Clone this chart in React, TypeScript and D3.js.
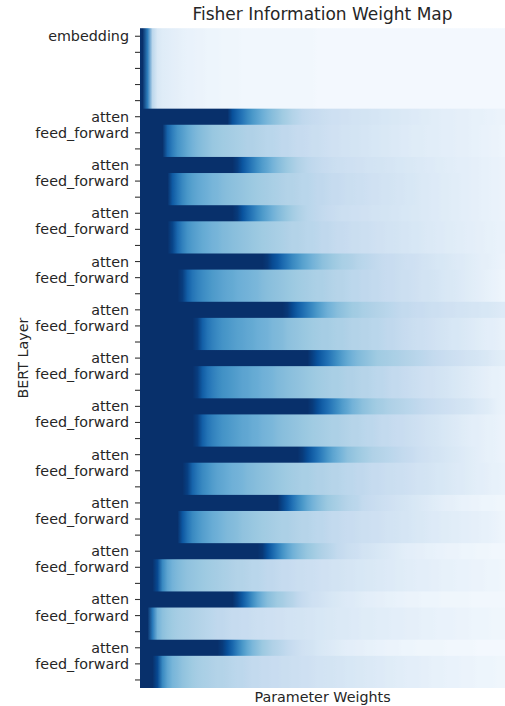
import React from "react";
import * as d3 from "d3";

const title = "Fisher Information Weight Map";
const xLabel = "Parameter Weights";
const yLabel = "BERT Layer";

const layerNames = ["atten", "feed_forward"];
const embeddingName = "embedding";
const embeddingRowCount = 5;
const feedForwardRowCount = 2;

// values in % of colour-scale maximum, one entry per weight column (73 columns)
const embeddingRow = [
  100, 70, 28, 15, 12, 11, 10, 9, 8, 7,
  7, 6, 6, 5, 5, 5, 4, 4, 4, 4,
  3, 3, 3, 3, 3, 3, 3, 3, 3, 3,
  3, 3, 3, 3, 3, 2, 2, 2, 2, 2,
  2, 2, 2, 2, 2, 2, 2, 2, 2, 2,
  2, 2, 2, 2, 2, 2, 2, 2, 2, 2,
  2, 2, 2, 2, 2, 2, 2, 2, 2, 2,
  2, 2, 2,
];

const attenRows = [
  [100, 100, 100, 100, 100, 100, 100, 100, 100, 100,
   100, 100, 100, 100, 100, 100, 100, 100, 88, 80,
   73, 66, 60, 55, 50, 46, 43, 40, 37, 34,
   31, 29, 27, 26, 25, 24, 23, 22, 21, 21,
   20, 20, 19, 19, 18, 18, 17, 17, 16, 16,
   15, 15, 14, 14, 13, 13, 12, 12, 11, 11,
   10, 10, 10, 9, 9, 9, 8, 8, 8, 7,
   7, 6, 6],
  [100, 100, 100, 100, 100, 100, 100, 100, 100, 100,
   100, 100, 100, 100, 100, 100, 100, 100, 100, 95,
   86, 78, 71, 64, 58, 53, 48, 44, 41, 38,
   35, 32, 30, 28, 27, 26, 25, 24, 23, 22,
   22, 21, 21, 20, 20, 19, 19, 18, 18, 17,
   17, 16, 16, 15, 15, 14, 14, 13, 13, 12,
   12, 11, 11, 10, 10, 10, 9, 9, 8, 8,
   7, 7, 6],
  [100, 100, 100, 100, 100, 100, 100, 100, 100, 100,
   100, 100, 100, 100, 100, 100, 100, 100, 100, 96,
   87, 79, 72, 65, 59, 54, 49, 45, 42, 39,
   36, 33, 31, 29, 28, 27, 26, 25, 24, 23,
   22, 22, 21, 21, 20, 20, 19, 19, 18, 18,
   17, 17, 16, 16, 15, 15, 14, 14, 13, 13,
   12, 12, 11, 11, 10, 10, 9, 9, 8, 8,
   7, 7, 6],
  [100, 100, 100, 100, 100, 100, 100, 100, 100, 100,
   100, 100, 100, 100, 100, 100, 100, 100, 100, 100,
   100, 100, 100, 100, 100, 97, 90, 85, 78, 72,
   66, 61, 56, 52, 48, 45, 42, 40, 38, 36,
   34, 33, 32, 30, 29, 28, 27, 26, 25, 24,
   24, 23, 22, 21, 21, 20, 19, 18, 17, 16,
   16, 15, 14, 13, 13, 12, 11, 10, 9, 9,
   8, 7, 6],
  [100, 100, 100, 100, 100, 100, 100, 100, 100, 100,
   100, 100, 100, 100, 100, 100, 100, 100, 100, 100,
   100, 100, 100, 100, 100, 100, 100, 100, 100, 97,
   90, 83, 77, 71, 65, 59, 54, 49, 46, 43,
   41, 39, 37, 36, 34, 33, 32, 31, 30, 29,
   28, 27, 26, 26, 25, 24, 24, 23, 22, 22,
   21, 20, 20, 19, 19, 18, 17, 17, 16, 16,
   15, 14, 13],
  [100, 100, 100, 100, 100, 100, 100, 100, 100, 100,
   100, 100, 100, 100, 100, 100, 100, 100, 100, 100,
   100, 100, 100, 100, 100, 100, 100, 100, 100, 100,
   100, 100, 100, 100, 94, 87, 81, 75, 69, 63,
   57, 52, 48, 45, 43, 41, 39, 37, 36, 35,
   34, 33, 32, 31, 30, 29, 28, 27, 26, 25,
   24, 23, 22, 21, 20, 19, 18, 17, 16, 15,
   13, 12, 11],
  [100, 100, 100, 100, 100, 100, 100, 100, 100, 100,
   100, 100, 100, 100, 100, 100, 100, 100, 100, 100,
   100, 100, 100, 100, 100, 100, 100, 100, 100, 100,
   100, 100, 100, 100, 96, 89, 82, 76, 70, 64,
   58, 53, 48, 45, 42, 40, 38, 36, 35, 33,
   32, 31, 30, 29, 28, 27, 26, 25, 24, 23,
   22, 21, 20, 19, 18, 17, 16, 14, 13, 12,
   10, 8, 7],
  [100, 100, 100, 100, 100, 100, 100, 100, 100, 100,
   100, 100, 100, 100, 100, 100, 100, 100, 100, 100,
   100, 100, 100, 100, 100, 100, 100, 100, 100, 100,
   100, 100, 96, 89, 82, 75, 68, 61, 55, 50,
   46, 42, 40, 38, 36, 34, 32, 31, 30, 29,
   28, 27, 26, 25, 24, 22, 21, 20, 19, 18,
   17, 16, 15, 14, 13, 12, 11, 10, 9, 8,
   8, 7, 6],
  [100, 100, 100, 100, 100, 100, 100, 100, 100, 100,
   100, 100, 100, 100, 100, 100, 100, 100, 100, 100,
   100, 100, 100, 100, 100, 100, 100, 100, 92, 84,
   75, 67, 60, 53, 48, 44, 41, 38, 36, 34,
   32, 30, 29, 28, 26, 25, 24, 23, 22, 21,
   20, 19, 18, 17, 16, 15, 14, 13, 12, 11,
   10, 9, 9, 8, 7, 7, 6, 6, 5, 5,
   5, 4, 4],
  [100, 100, 100, 100, 100, 100, 100, 100, 100, 100,
   100, 100, 100, 100, 100, 100, 100, 100, 100, 100,
   100, 100, 100, 100, 97, 88, 79, 70, 62, 55,
   49, 45, 42, 39, 37, 34, 32, 30, 28, 26,
   25, 23, 22, 21, 19, 18, 17, 16, 15, 14,
   13, 12, 11, 10, 10, 9, 9, 8, 8, 7,
   7, 6, 6, 6, 5, 5, 5, 4, 4, 4,
   3, 3, 3],
  [100, 100, 100, 100, 100, 100, 100, 100, 100, 100,
   100, 100, 100, 100, 100, 100, 100, 100, 100, 93,
   84, 74, 64, 55, 48, 43, 40, 37, 35, 32,
   30, 27, 25, 23, 21, 20, 19, 17, 16, 15,
   14, 13, 13, 12, 11, 10, 10, 9, 9, 8,
   8, 7, 7, 6, 6, 6, 5, 5, 5, 5,
   4, 4, 4, 4, 4, 4, 3, 3, 3, 3,
   3, 3, 3],
  [100, 100, 100, 100, 100, 100, 100, 100, 100, 100,
   100, 100, 100, 100, 100, 100, 96, 88, 79, 69,
   60, 52, 46, 42, 38, 35, 32, 30, 28, 26,
   24, 22, 20, 19, 18, 16, 15, 14, 13, 12,
   11, 10, 10, 9, 9, 8, 8, 7, 7, 6,
   6, 6, 5, 5, 5, 4, 4, 4, 4, 4,
   4, 3, 3, 3, 3, 3, 3, 2, 2, 2,
   2, 2, 2],
];

const feedForwardRows = [
  [100, 100, 100, 100, 100, 80, 70, 62, 57, 52,
   48, 45, 43, 41, 39, 38, 37, 36, 35, 34,
   33, 32, 32, 31, 30, 29, 29, 28, 27, 27,
   26, 25, 25, 24, 23, 23, 22, 21, 20, 20,
   19, 19, 18, 18, 17, 17, 16, 16, 15, 15,
   14, 14, 13, 13, 12, 12, 12, 11, 11, 11,
   10, 10, 10, 9, 9, 9, 8, 8, 7, 7,
   6, 6, 5],
  [100, 100, 100, 100, 100, 100, 84, 74, 66, 60,
   56, 53, 51, 49, 47, 46, 44, 43, 42, 41,
   40, 39, 38, 37, 36, 35, 34, 33, 32, 31,
   31, 30, 29, 29, 28, 27, 27, 26, 25, 25,
   24, 23, 23, 22, 22, 21, 20, 20, 19, 19,
   18, 17, 17, 16, 16, 15, 14, 14, 13, 13,
   12, 12, 11, 11, 10, 10, 9, 9, 8, 8,
   7, 7, 6],
  [100, 100, 100, 100, 100, 100, 92, 78, 69, 62,
   58, 55, 52, 50, 48, 47, 45, 44, 43, 42,
   41, 40, 39, 38, 37, 36, 35, 34, 33, 32,
   31, 31, 30, 29, 29, 28, 27, 27, 26, 25,
   25, 24, 23, 23, 22, 22, 21, 20, 20, 19,
   19, 18, 17, 17, 16, 16, 15, 14, 14, 13,
   13, 12, 12, 11, 11, 10, 10, 9, 9, 8,
   8, 7, 7],
  [100, 100, 100, 100, 100, 100, 100, 100, 95, 82,
   74, 69, 65, 62, 59, 57, 55, 53, 52, 50,
   49, 48, 47, 46, 44, 43, 42, 41, 40, 39,
   38, 37, 36, 35, 34, 33, 33, 32, 31, 30,
   30, 29, 28, 28, 27, 27, 26, 26, 25, 24,
   24, 23, 22, 22, 21, 20, 19, 19, 18, 17,
   16, 15, 15, 14, 13, 12, 11, 10, 9, 8,
   7, 6, 5],
  [100, 100, 100, 100, 100, 100, 100, 100, 100, 100,
   100, 95, 82, 74, 69, 65, 62, 60, 58, 56,
   55, 53, 52, 50, 49, 48, 46, 45, 44, 42,
   41, 40, 39, 38, 37, 36, 35, 35, 34, 33,
   33, 32, 31, 31, 30, 30, 29, 29, 28, 27,
   27, 26, 25, 24, 23, 22, 22, 21, 20, 19,
   18, 17, 16, 16, 15, 14, 13, 12, 11, 10,
   10, 9, 8],
  [100, 100, 100, 100, 100, 100, 100, 100, 100, 100,
   100, 95, 83, 75, 70, 66, 63, 61, 59, 57,
   55, 54, 52, 51, 49, 48, 47, 45, 44, 43,
   42, 41, 40, 39, 38, 37, 36, 35, 34, 34,
   33, 32, 32, 31, 30, 30, 29, 28, 28, 27,
   26, 26, 25, 24, 23, 22, 21, 20, 20, 19,
   18, 17, 16, 15, 14, 13, 12, 11, 10, 9,
   8, 8, 7],
  [100, 100, 100, 100, 100, 100, 100, 100, 100, 100,
   100, 95, 82, 74, 69, 65, 62, 60, 58, 56,
   54, 53, 51, 50, 48, 47, 46, 44, 43, 42,
   41, 40, 39, 38, 37, 36, 35, 34, 33, 33,
   32, 31, 30, 30, 29, 28, 28, 27, 26, 26,
   25, 24, 24, 23, 22, 21, 20, 19, 18, 17,
   16, 15, 14, 13, 12, 11, 10, 10, 9, 8,
   8, 7, 6],
  [100, 100, 100, 100, 100, 100, 100, 100, 100, 94,
   80, 72, 66, 62, 58, 55, 53, 51, 49, 48,
   47, 45, 44, 43, 42, 41, 40, 39, 38, 37,
   36, 35, 34, 34, 33, 32, 32, 31, 30, 30,
   29, 28, 28, 27, 27, 26, 25, 25, 24, 23,
   23, 22, 22, 21, 20, 19, 19, 18, 17, 16,
   16, 15, 14, 13, 13, 12, 11, 10, 10, 9,
   8, 8, 7],
  [100, 100, 100, 100, 100, 100, 100, 100, 85, 74,
   66, 61, 57, 54, 51, 49, 47, 45, 44, 43,
   41, 40, 39, 38, 37, 36, 35, 34, 33, 33,
   32, 31, 30, 30, 29, 28, 28, 27, 26, 26,
   25, 24, 24, 23, 22, 22, 21, 21, 20, 19,
   19, 18, 17, 17, 16, 15, 15, 14, 13, 13,
   12, 12, 11, 11, 10, 10, 9, 9, 8, 8,
   7, 6, 5],
  [100, 100, 100, 90, 66, 54, 48, 45, 43, 41,
   40, 39, 38, 37, 36, 35, 34, 33, 32, 31,
   31, 30, 29, 29, 28, 27, 27, 26, 25, 25,
   24, 23, 23, 22, 22, 21, 20, 20, 19, 19,
   18, 17, 17, 16, 16, 15, 15, 14, 14, 13,
   13, 12, 12, 11, 11, 10, 10, 10, 9, 9,
   8, 8, 8, 7, 7, 7, 6, 6, 6, 5,
   5, 5, 4],
  [100, 100, 72, 48, 42, 39, 37, 35, 34, 33,
   32, 31, 30, 29, 28, 27, 27, 26, 25, 25,
   24, 24, 23, 22, 22, 21, 21, 20, 20, 19,
   19, 18, 18, 17, 17, 16, 16, 15, 15, 14,
   14, 14, 13, 13, 12, 12, 12, 11, 11, 11,
   10, 10, 10, 9, 9, 9, 8, 8, 8, 7,
   7, 7, 7, 6, 6, 6, 5, 5, 5, 5,
   4, 4, 4],
  [100, 100, 100, 90, 66, 54, 47, 44, 41, 39,
   37, 35, 34, 33, 32, 31, 31, 30, 29, 28,
   28, 27, 26, 26, 25, 25, 24, 24, 23, 23,
   22, 22, 21, 21, 20, 19, 19, 18, 18, 17,
   17, 16, 16, 15, 15, 14, 14, 13, 13, 12,
   12, 11, 11, 10, 10, 10, 9, 9, 8, 8,
   8, 7, 7, 7, 6, 6, 6, 5, 5, 5,
   5, 4, 4],
];

const bluesStops = ["#f7fbff", "#deebf7", "#c6dbef", "#9ecae1", "#6baed6", "#4292c6", "#2171b5", "#08519c", "#08306b"];

type Row = { label: string; values: number[]; key: string };

function buildRows(): Row[] {
  const rows: Row[] = [];
  for (let i = 0; i < embeddingRowCount; i++) {
    rows.push({ label: i === 0 ? embeddingName : "", values: embeddingRow, key: "emb" });
  }
  for (let l = 0; l < attenRows.length; l++) {
    rows.push({ label: layerNames[0], values: attenRows[l], key: `att${l}` });
    for (let k = 0; k < feedForwardRowCount; k++) {
      rows.push({ label: k === 0 ? layerNames[1] : "", values: feedForwardRows[l], key: `ff${l}` });
    }
  }
  return rows;
}

const W = 505;
const H = 706;
const plotLeft = 140;
const plotRight = 505;
const plotTop = 28.2;
const plotBottom = 688;
const FONT = "'DejaVu Sans', Verdana, sans-serif";
const TEXT = "#262626";

export default function App() {
  const rows = buildRows();
  const nCols = embeddingRow.length;
  const x = d3.scaleLinear().domain([0, nCols]).range([plotLeft, plotRight]);
  const y = d3
    .scaleBand<number>()
    .domain(rows.map((_, i) => i))
    .range([plotTop, plotBottom])
    .paddingInner(0)
    .paddingOuter(0);
  const color = d3
    .scaleLinear<string>()
    .domain(bluesStops.map((_, i) => (i * 100) / (bluesStops.length - 1)))
    .range(bluesStops)
    .interpolate(d3.interpolateRgb)
    .clamp(true);
  const bw = y.bandwidth();

  const profiles = new Map<string, number[]>();
  rows.forEach((r) => profiles.set(r.key, r.values));

  return (
    <svg
      width={W}
      height={H}
      viewBox={`0 0 ${W} ${H}`}
      style={{ position: "absolute", left: 0, top: 0, background: "#fff" }}
      fontFamily={FONT}
    >
      <defs>
        {Array.from(profiles.entries()).map(([key, vals]) => (
          <linearGradient
            key={key}
            id={`g-${key}`}
            gradientUnits="userSpaceOnUse"
            x1={plotLeft}
            x2={plotRight}
            y1={0}
            y2={0}
          >
            <stop offset={0} stopColor={color(vals[0])} />
            {vals.map((v, ci) => (
              <stop key={ci} offset={(x(ci + 0.5) - plotLeft) / (plotRight - plotLeft)} stopColor={color(v)} />
            ))}
            <stop offset={1} stopColor={color(vals[vals.length - 1])} />
          </linearGradient>
        ))}
      </defs>
      <rect x={0} y={0} width={W} height={H} fill="#fff" />
      <g>
        {rows.map((row, ri) => (
          <rect
            key={`r-${ri}`}
            x={plotLeft}
            y={y(ri)!}
            width={plotRight - plotLeft}
            height={ri === rows.length - 1 ? bw : bw + 1}
            fill={`url(#g-${row.key})`}
          />
        ))}
      </g>
      <g>
        {rows.map((row, ri) => {
          const cy = y(ri)! + bw / 2;
          return (
            <g key={`t-${ri}`}>
              <line x1={plotLeft - 5} x2={plotLeft} y1={cy} y2={cy} stroke="#333" strokeWidth={1.1} />
              {row.label && (
                <text x={plotLeft - 11} y={cy} dy="0.35em" textAnchor="end" fontSize={14.3} fill={TEXT}>
                  {row.label}
                </text>
              )}
            </g>
          );
        })}
      </g>
      <text x={(plotLeft + plotRight) / 2} y={19.5} textAnchor="middle" fontSize={17} fill={TEXT}>
        {title}
      </text>
      <text x={(plotLeft + plotRight) / 2} y={702} textAnchor="middle" fontSize={14.3} fill={TEXT}>
        {xLabel}
      </text>
      <text
        transform={`translate(27.5, ${(plotTop + plotBottom) / 2}) rotate(-90)`}
        textAnchor="middle"
        fontSize={14.3}
        fill={TEXT}
      >
        {yLabel}
      </text>
    </svg>
  );
}
